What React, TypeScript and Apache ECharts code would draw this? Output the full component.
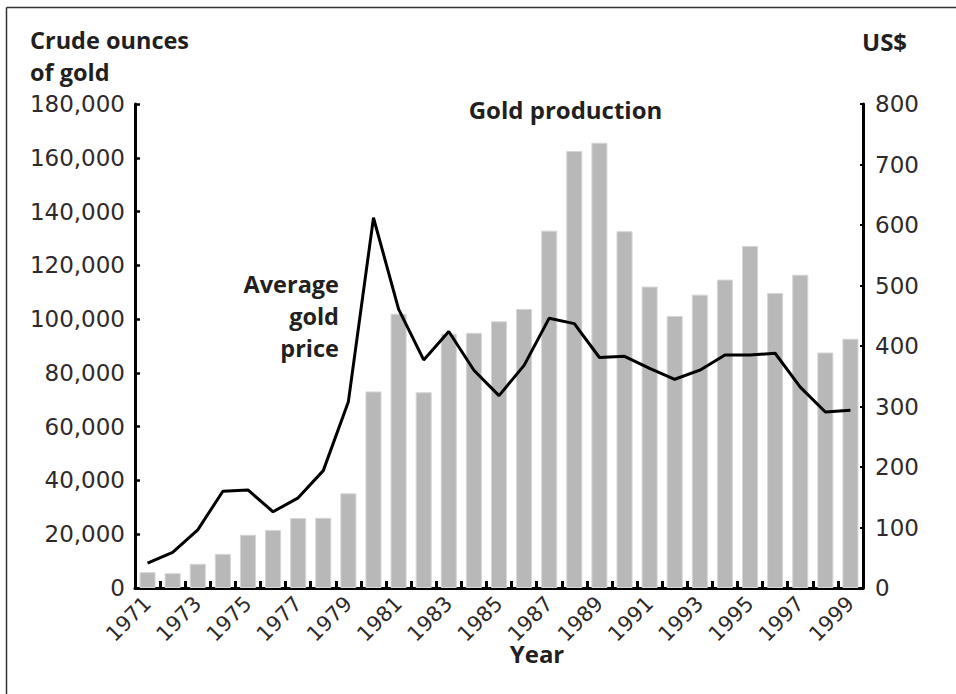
import React, { useEffect, useRef } from "react";
import * as echarts from "echarts";

const years: string[] = [
  "1971", "1972", "1973", "1974", "1975", "1976", "1977", "1978", "1979", "1980",
  "1981", "1982", "1983", "1984", "1985", "1986", "1987", "1988", "1989", "1990",
  "1991", "1992", "1993", "1994", "1995", "1996", "1997", "1998", "1999",
];

// Gold production, crude ounces (left axis)
const production: number[] = [
  5900, 5500, 9000, 12700, 19800, 21600, 26000, 26100, 35200, 73100,
  102000, 72800, 94600, 94900, 99200, 103800, 132900, 162500, 165600, 132700,
  112100, 101200, 109100, 114700, 127200, 109700, 116500, 87600, 92700,
];

// Average gold price, US$ (right axis)
const goldPrice: number[] = [
  41, 59, 96, 160, 162, 126, 149, 194, 308, 612,
  461, 377, 424, 360, 318, 368, 446, 437, 381, 383,
  363, 345, 360, 385, 385, 388, 332, 291, 294,
];

const leftTicks = { min: 0, max: 180000, interval: 20000 };
const rightTicks = { min: 0, max: 800, interval: 100 };

const NUM_FONT = "'DejaVu Sans', sans-serif";
const BOLD_FONT = "'Open Sans', Lato, sans-serif";
const TEXT_COLOR = "#231f20";
const NUM_COLOR = "#2e2a2b";

export default function App() {
  const ref = useRef<HTMLDivElement>(null);

  useEffect(() => {
    if (!ref.current) return;
    const chart = echarts.init(ref.current, undefined, { renderer: "svg" });
    const boldText = (
      text: string,
      x: number,
      y: number,
      align: string,
      size = 24
    ) => ({
      type: "text",
      x,
      y,
      style: {
        text,
        fill: TEXT_COLOR,
        font: `bold ${size}px ${BOLD_FONT}`,
        textAlign: align,
        textVerticalAlign: "middle",
      },
    });
    chart.setOption({
      animation: false,
      grid: { left: 135, right: 93, top: 104, bottom: 106, containLabel: false },
      xAxis: {
        type: "category",
        data: years,
        axisLine: { show: true, lineStyle: { color: "#000", width: 3 } },
        axisTick: {
          show: true,
          inside: true,
          interval: 0,
          length: 7,
          lineStyle: { color: "#000", width: 3 },
        },
        axisLabel: {
          interval: 1,
          rotate: 45,
          margin: 12,
          fontFamily: NUM_FONT,
          fontSize: 21,
          color: NUM_COLOR,
        },
        splitLine: { show: false },
      },
      yAxis: [
        {
          type: "value",
          ...leftTicks,
          position: "left",
          axisLine: { show: true, lineStyle: { color: "#000", width: 3 } },
          axisTick: {
            show: true,
            inside: true,
            length: 5,
            lineStyle: { color: "#000", width: 2.5 },
          },
          axisLabel: {
            margin: 10,
            fontFamily: NUM_FONT,
            fontSize: 23,
            color: NUM_COLOR,
            formatter: (v: number) => v.toLocaleString("en-US"),
          },
          splitLine: { show: false },
        },
        {
          type: "value",
          ...rightTicks,
          position: "right",
          axisLine: { show: true, lineStyle: { color: "#000", width: 3 } },
          axisTick: {
            show: true,
            inside: true,
            length: 3,
            lineStyle: { color: "#000", width: 2 },
          },
          axisLabel: {
            margin: 12,
            fontFamily: NUM_FONT,
            fontSize: 23,
            color: NUM_COLOR,
          },
          splitLine: { show: false },
        },
      ],
      series: [
        {
          name: "Gold production",
          type: "bar",
          yAxisIndex: 0,
          data: production,
          barCategoryGap: "36%",
          itemStyle: { color: "#b8b8b8", borderColor: "#d6d6d6", borderWidth: 1 },
          z: 1,
        },
        {
          name: "Average gold price",
          type: "line",
          yAxisIndex: 1,
          data: goldPrice,
          showSymbol: false,
          symbol: "none",
          lineStyle: { color: "#000", width: 3 },
          z: 3,
        },
      ],
      graphic: [
        {
          type: "line",
          shape: { x1: 6.5, y1: 7.5, x2: 956, y2: 7.5 },
          style: { stroke: "#333", lineWidth: 1.5 },
        },
        {
          type: "line",
          shape: { x1: 6.5, y1: 7.5, x2: 6.5, y2: 694 },
          style: { stroke: "#333", lineWidth: 1.5 },
        },
        boldText("Crude ounces", 30, 40, "left", 23.5),
        boldText("of gold", 30, 72, "left", 23.5),
        boldText("US$", 862, 41.5, "left"),
        boldText("Gold production", 565.5, 109.5, "center"),
        boldText("Average", 339, 284, "right", 23.5),
        boldText("gold", 339, 316, "right", 23.5),
        boldText("price", 339, 348, "right", 23.5),
        boldText("Year", 537, 653.5, "center"),
      ],
    });
    return () => chart.dispose();
  }, []);

  return <div ref={ref} style={{ width: 956, height: 694, position: "absolute", left: 0, top: 0 }} />;
}
